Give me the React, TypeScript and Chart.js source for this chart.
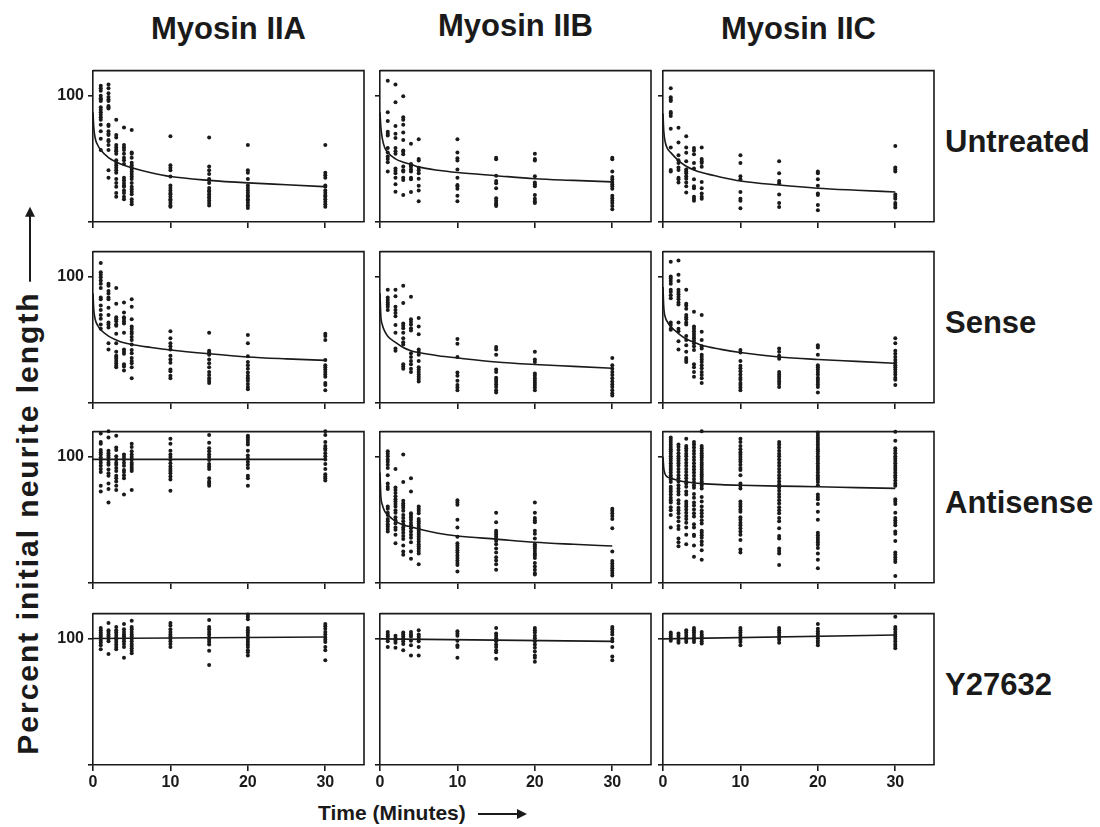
import React, { useEffect, useRef } from 'react';
import { Chart, registerables } from 'chart.js';

Chart.register(...registerables);

// ---------------- DATA ----------------
const COLUMN_TITLES = ['Myosin IIA', 'Myosin IIB', 'Myosin IIC'];
const ROW_TITLES = ['Untreated', 'Sense', 'Antisense', 'Y27632'];
const X_TICKS = [0, 10, 20, 30];
const Y_TICKS = [0, 100];
const TIMES = [1, 2, 3, 4, 5, 10, 15, 20, 30];
const FIT_X = [0, 0.1, 0.3, 0.6, 1, 2, 3, 4, 5, 7.5, 10, 15, 20, 25, 30];
const FIT_X_FLAT = [0, 30];

const untreatedA = [
  [108, 106, 104, 100, 98, 97, 96, 91, 89, 87, 85, 83, 81, 77, 72, 66, 57],
  [109, 106, 102, 99, 97, 96, 92, 91, 90, 77, 76, 72, 70, 69, 65, 64, 61, 57, 41, 35],
  [81, 69, 67, 61, 59, 57, 56, 54, 49, 47, 45, 43, 41, 39, 34, 31, 28, 23, 20],
  [75, 61, 59, 57, 54, 51, 49, 46, 35, 33, 31, 29, 28, 25, 23, 20, 18],
  [73, 55, 54, 51, 47, 45, 43, 42, 40, 38, 36, 34, 31, 28, 26, 24, 22, 18, 16, 14],
  [68, 45, 43, 41, 36, 29, 27, 25, 23, 22, 20, 18, 17, 15, 13, 12],
  [67, 44, 41, 38, 34, 33, 31, 27, 25, 24, 22, 20, 19, 17, 15, 13],
  [61, 41, 39, 34, 29, 27, 25, 23, 21, 20, 18, 17, 15, 13, 11],
  [61, 39, 37, 35, 29, 28, 25, 23, 21, 20, 18, 16, 14, 12],
];
const untreatedAFit = [87, 75, 66, 61, 57, 51, 47.5, 45, 43, 39, 36, 33, 31, 29.5, 28];

const untreatedB = [
  [112, 87, 80, 71.5, 70, 68.5, 58.6, 55, 52, 50, 47.4, 40],
  [109, 95, 76, 70, 66.5, 58.6, 56, 54, 42.5, 40.7, 38.7, 35, 30, 24],
  [99.6, 83, 81, 77, 71, 65, 56.6, 55.6, 53.6, 44, 41, 40, 35, 33.3, 21.4],
  [62, 46, 45, 43.7, 41.7, 40, 35, 33.8, 23.8],
  [65.5, 50, 48.7, 43, 41, 38.7, 34.3, 28.8, 25, 16.4],
  [65.5, 55, 50.6, 48.7, 41.7, 35, 29.3, 28.3, 26.3, 20.8, 16.4],
  [51, 49.7, 36.7, 32.5, 30.8, 26.8, 18.9, 16.9, 15.1, 13.9, 12.6],
  [54, 50, 48.7, 36.2, 31.3, 30, 28.3, 21.4, 18.4, 16.4, 15.1],
  [51, 49.7, 40, 35.7, 33.8, 31.8, 30, 28.3, 26.3, 20.8, 18.9, 16.9, 15.1, 12.6, 10.2],
];
const untreatedBFit = [87, 76, 66, 59, 55, 50, 47.4, 45.7, 43.7, 41, 39.2, 36.7, 34.3, 33, 31.8];

const untreatedC = [
  [106, 98.8, 97, 95.9, 87.2, 85.9, 84, 74, 59, 41.2, 40],
  [74.7, 63, 53, 49, 46.7, 43.2, 41.2, 35, 33.8, 31.3],
  [68, 59, 54.9, 48.2, 41.7, 40, 38.7, 36.2, 34.3, 31.3, 28.3, 23.3],
  [58.6, 56.6, 53.6, 46.7, 42.5, 33.8, 28.3, 26.8, 20.1, 18.4, 16.9],
  [59, 50, 48.2, 46.7, 43.7, 31.8, 26.8, 22.6, 20.1, 18.4],
  [53, 46.7, 36.2, 33.8, 23.8, 18.4, 16.9, 10.9],
  [48.2, 38.7, 32.5, 30.8, 21.8, 15.1, 11.9],
  [40, 38.7, 33.8, 28.8, 22.6, 21.4, 13.4, 9.4],
  [60.3, 43.2, 41.7, 40, 21.8, 20.1, 18.4, 15.1, 13.4, 11.4],
];
const untreatedCFit = [86, 72, 63, 58, 55, 48.7, 44.2, 41.2, 39.2, 35.5, 32.5, 29.3, 26.8, 25.2, 23.8];

const senseA = [
  [111, 103.6, 101.6, 99.6, 97.1, 94.6, 91.1, 83.7, 82.2, 77.2, 73.8, 69.8, 66.8, 62.3, 58.9],
  [94.6, 92.9, 88.7, 86.7, 83.7, 82.2, 75.5, 69.8, 63.8, 62.3, 59.8, 47.4, 42.5],
  [91.1, 78.7, 68, 66.3, 64.8, 62.3, 61.3, 54.9, 47.4, 40.7, 37.5, 36.5, 35, 33.3, 31.5, 29.5, 28.3],
  [79.7, 71.8, 68, 66.8, 64.8, 63.1, 55.6, 42.5, 40.7, 39, 30.8, 29, 25.8],
  [82.2, 76.2, 66.3, 60.6, 58.9, 56.4, 54.9, 52.4, 49.9, 46.4, 42, 39.5, 35.7, 33.3, 31.5, 28.3, 19.6],
  [56.9, 51.4, 47.4, 45, 42.5, 37.5, 34.5, 32, 26.6, 25.1, 21.6, 19.6],
  [55.6, 41.5, 40, 38.2, 34.5, 31.5, 28.3, 24.6, 22.1, 19.6, 17.6, 15.9],
  [53.9, 47.4, 37, 32.5, 30, 27.1, 24.1, 21.6, 19.6, 17.6, 15.1, 12.6, 10.9],
  [54.9, 53.1, 49.9, 34, 30, 28.3, 26.6, 24.6, 22.6, 20.8, 15.9, 14.2, 10.2],
];
const senseAFit = [87, 74, 66, 61.5, 58, 53, 50, 47.7, 46.3, 44, 42, 39, 36.5, 35, 33.8];

const senseB = [
  [89.7, 83.7, 81.7, 79.7, 78, 76.2, 73.8],
  [89.7, 84.7, 76.2, 73.8, 71.3, 68.8, 61.8, 55.6, 43.2, 41.5],
  [92.9, 79.2, 63.1, 61.3, 59.3, 55.6, 51.4, 48.2, 46.4, 30.8, 29, 27.1],
  [84.2, 66.3, 64.3, 62.3, 59.3, 57.4, 39.5, 36.5, 33.3, 30.8, 27.1, 24.6],
  [67.3, 60.6, 54.4, 42.5, 40.7, 38.2, 33.3, 28.3, 26.6, 24.6, 22.6, 20.8, 19.1, 17.1],
  [50.7, 46.9, 36.5, 24.1, 21.6, 17.6, 14.2, 12.2, 10.2],
  [44.4, 42.5, 38.2, 26.6, 24.6, 20.1, 18.4, 16.6, 14.6, 12.6, 10.2, 8.4],
  [40.7, 34.5, 32.5, 23.3, 21.6, 19.6, 17.6, 15.9, 14.2, 12.2, 10.2],
  [35.7, 30, 27.1, 24.6, 22.1, 19.6, 17.1, 14.6, 12.6, 10.2, 7.7, 5.9],
];
const senseBFit = [87, 70, 62, 57, 53, 48, 44, 41.5, 40, 37.5, 35.7, 32.5, 30.5, 29, 27.5];

const senseC = [
  [112, 100.3, 98.6, 96.6, 94.6, 89.7, 87.9, 85.4, 83, 63.8, 61.8, 58.9, 58.1],
  [113, 101.6, 96.6, 89.7, 87.9, 86.2, 84.2, 82.2, 79.7, 78, 63.8, 58.9, 56.9, 48.9, 42.5],
  [89.7, 78.7, 77.2, 74.7, 69.8, 68, 66.3, 63.8, 62.3, 53.1, 49.9, 45.7, 40.7, 35.7, 34, 32.5],
  [72.3, 60.6, 58.9, 56.9, 54.9, 53.1, 51.4, 49.4, 47.4, 45, 42, 30.8, 28.3, 24.6, 20.8],
  [69.8, 56.4, 49.9, 45, 43.2, 38.2, 36.5, 34.5, 32.5, 30, 27.6, 24.6, 22.1, 19.6, 15.9],
  [42, 40, 33.3, 29.5, 27.6, 25.1, 22.6, 20.1, 18.4, 15.9, 14.2, 12.2, 10.2],
  [43.2, 40.7, 37.5, 35, 24.6, 22.6, 20.8, 19.1, 17.1, 15.1, 12.6],
  [45.7, 44, 38.2, 30, 28.3, 26.6, 24.6, 22.6, 20.1, 18.4, 16.6, 14.6, 12.6, 8.4],
  [51.4, 47.4, 41.5, 39, 36.5, 34, 32, 30, 28.3, 26.6, 24.6, 22.6, 20.1, 18.4, 14.2],
];
const senseCFit = [92, 76, 68, 64, 60.6, 55, 50.7, 48.2, 45.7, 42.5, 40, 36.5, 34.5, 33, 31.5];

const antisenseA = [
  [118.5, 111.8, 110.3, 105.4, 103.6, 101.9, 99.4, 97.4, 95.4, 92.9, 90.4, 88, 77, 72.6],
  [120.3, 115.3, 104.9, 102.9, 101.1, 99.4, 97.4, 95.4, 93.7, 90, 87, 85, 78.8, 74.6, 63.9],
  [116.8, 107.3, 105.4, 100.4, 97.9, 95.4, 93.7, 91.2, 88.7, 85, 83, 80.5, 77, 73.8],
  [101.9, 99.9, 97.9, 95.4, 93, 89.5, 88, 85.5, 83, 70.1],
  [110.3, 107.8, 104.4, 101.9, 99.9, 97.9, 95.4, 93.7, 92, 90.4, 88.7, 73.8],
  [114.3, 110.3, 104.9, 101.9, 99.9, 97.4, 94.9, 92.4, 90.4, 88.7, 87, 84.5, 82, 73.1],
  [117.3, 111.1, 106.9, 104.4, 101.9, 99.9, 97.4, 94.4, 92.4, 90.4, 83, 80.5, 78.8, 77],
  [116.8, 115.3, 113.6, 111.8, 109.8, 104.9, 101.1, 98.7, 96.2, 93.7, 91.2, 85, 83, 77],
  [120.3, 117.3, 111.8, 108.6, 106.9, 105.4, 102.9, 100.4, 97.9, 94.4, 90.4, 86.2, 84.5, 83, 81.3],
];
const antisenseAFit = [98, 98];

const antisenseB = [
  [104.4, 102.4, 100.4, 97.9, 96.2, 93.7, 91.2, 85.5, 78.8, 76.3, 74.6, 60.6, 58.9, 55.7, 53.9, 50.7, 49, 46.5, 44.7, 42.8, 40.8],
  [90.4, 75.6, 73.8, 71.3, 68.8, 66.4, 64.6, 62.6, 60.6, 57.7, 55.7, 52.2, 49.7, 47.2, 44, 42.3, 38.3, 31.6],
  [101.9, 80, 65.1, 63.1, 61.4, 59.7, 57.2, 53.9, 51.5, 49, 46.5, 44, 42.3, 39.8, 37.3, 34.8, 29.8, 24.9, 22.4],
  [83, 72.6, 55.2, 53.9, 52.2, 50.2, 47.7, 45.7, 43.3, 40.8, 38.3, 35.8, 32.3, 24.9, 19.2],
  [60.6, 58.9, 57.2, 55.2, 50.7, 49, 47.2, 45.2, 43.3, 41.5, 39.8, 38.3, 36.6, 34.8, 32.8, 30.8, 29.1, 27.4, 25.4, 23.4, 14.9],
  [65.6, 63.9, 62.1, 50.2, 44, 36.6, 31.6, 29.8, 27.9, 25.9, 24.1, 21.7, 19.9, 17.9, 15.9, 14.2, 9.2],
  [55.7, 48.2, 41.5, 39.8, 38.3, 36.6, 34.8, 33.3, 30.8, 27.4, 24.1, 20.4, 17.9, 14.9, 10.5],
  [63.9, 55.7, 51.5, 49.7, 48.2, 41.5, 39, 35.3, 30.8, 29.1, 27.4, 25.4, 23.4, 21.7, 19.9, 15.9, 13, 10.5, 8, 6.7],
  [58.9, 57.2, 55.2, 53.2, 50.7, 43.3, 24.9, 17.4, 15.4, 13.4, 11.7, 10, 8, 6],
];
const antisenseBFit = [87.5, 70, 62, 57, 54, 49, 46, 44.5, 42.8, 39.5, 37.3, 34.8, 32.3, 30.7, 29.3];

const antisenseC = [
  [115.3, 113.6, 111.8, 109.8, 107.8, 106.1, 104.4, 102.4, 100.4, 98.7, 96.9, 94.9, 92.9, 91.2, 89.5, 87.5, 85.5, 83.7, 82, 80, 76.3, 74.6, 72.6, 70.1, 67.6, 65.6, 63.9, 60.1, 57.7, 53.9, 44],
  [109.8, 107.8, 105.4, 102.9, 100.4, 98.7, 96.9, 94.9, 92.9, 90.4, 88, 85.5, 83, 80.5, 77.5, 75, 72.6, 70.1, 65.6, 63.1, 59.7, 57.7, 55.2, 52.2, 49, 45.2, 42.8, 35.3, 32.3, 29.1],
  [114.3, 108.6, 106.9, 104.9, 102.4, 100.4, 97.9, 95.4, 92.9, 90.4, 88, 85.5, 83, 80.5, 78.8, 76.3, 72.6, 70.1, 64.6, 62.6, 60.6, 58.2, 55.7, 53.2, 50.7, 47.7, 44, 38.3, 30.8],
  [111.8, 109.8, 107.3, 104.9, 102.4, 99.9, 97.4, 94.9, 92.4, 90, 87.5, 85, 82.5, 80, 77.5, 75.5, 70.6, 67.6, 63.9, 61.4, 58.2, 55.2, 52.7, 46.5, 44, 38.3, 37.3, 29.8, 20.9],
  [120.3, 108.6, 106.9, 104.9, 102.9, 101.1, 99.4, 97.4, 95.4, 93.7, 91.9, 90, 88, 86.2, 84.5, 82.5, 80.5, 78.8, 77, 75, 68.1, 64.6, 60.6, 57.7, 55.2, 52.7, 49.7, 47.2, 41.5, 39.8, 37.8, 35.8, 32.8, 30.3, 25.9, 18.4],
  [114.3, 111.8, 108.6, 106.1, 103.6, 101.9, 99.9, 97.9, 96.2, 93.7, 91.2, 89.5, 85.5, 78.8, 77, 75, 64.6, 62.6, 60.6, 58.2, 56.4, 52.2, 50.2, 47.7, 45.7, 43.3, 40.8, 38.3, 34.1, 26.6, 24.1],
  [111.8, 109.8, 107.3, 104.9, 102.4, 100.4, 97.9, 95.4, 92.9, 90.4, 88, 85.5, 83, 80.5, 78, 75.5, 73.1, 70.6, 68.1, 65.6, 63.1, 60.1, 57.7, 55.2, 51.5, 49, 43.3, 37.3, 35.3, 27.4, 25.4, 23.4, 14.2],
  [119.3, 117.3, 115.3, 113.6, 111.8, 109.8, 107.8, 106.1, 104.4, 102.4, 100.4, 98.7, 96.9, 94.9, 92.9, 91.2, 89.5, 87.5, 85.5, 83.7, 82, 80, 77.5, 70.1, 68.1, 66.4, 62.6, 56.4, 50.2, 39.8, 37.8, 35.8, 34.1, 32.3, 30.3, 27.8, 23.4, 18.4, 11.7],
  [119.8, 112.8, 106.9, 104.9, 102.9, 100.4, 98.7, 96.9, 94.9, 92.9, 91.2, 89.5, 87.5, 85.5, 83.7, 81.3, 78.8, 77, 66.4, 64.6, 62.6, 55.7, 51.5, 49.7, 47.7, 45.7, 40.8, 39, 33.3, 24.1, 22.4, 20.4, 18.4, 16.7, 5.5],
];
const antisenseCFit = [100, 91, 86, 84, 83, 81.3, 80, 79.3, 78.8, 78, 77.5, 76.8, 76.3, 75.6, 75];

const y27632A = [
  [108.5, 106.8, 105, 103.5, 101.8, 100, 98.5, 96.8, 95, 91.8],
  [112.5, 106.8, 105.5, 103.5, 101.8, 100, 98, 88],
  [109.3, 106.8, 105, 103, 101, 99.3, 97.5, 95.5, 93.5, 91.8],
  [111.8, 107.5, 105.5, 103.5, 101.8, 100, 98, 96, 93.5, 85],
  [114.3, 109.3, 107.5, 105.5, 103.5, 101.8, 100, 98, 96, 94.3, 92.5, 90.5, 88.5],
  [112.5, 110.5, 107.5, 105.5, 103.5, 101.8, 100, 98, 96, 93.5],
  [115, 109.3, 107.5, 105.5, 103.5, 101, 99.3, 97.5, 95.5, 90.5, 79.3],
  [119.3, 117.5, 115.5, 108.5, 106.8, 105, 103, 101, 99.3, 97.5, 95.5, 93.5, 91, 89.3, 86.8],
  [111.8, 110, 108, 105.5, 103.5, 101, 99.3, 97.5, 93.5, 91, 83],
];
const y27632AFit = [100.3, 101.5];

const y27632B = [
  [105.5, 103.5, 101.8, 100, 98, 93.5],
  [102.5, 100.5, 98.5, 96.8, 93],
  [105, 103.5, 101.8, 100, 98, 96, 91],
  [105.5, 103.5, 101.8, 98.5, 95, 86.8],
  [106.8, 103.5, 101.8, 100, 98, 93.5, 86.8],
  [106, 104.3, 102.5, 98.5, 95, 93.5, 85],
  [108.5, 104.3, 102.5, 100.5, 98, 95.5, 93.5, 91, 89.3, 84.3],
  [108.5, 106.8, 105, 102.5, 100.5, 98, 95.5, 93, 90, 86.8, 85, 81.8],
  [109.3, 107.5, 105.5, 103.5, 100, 98, 93.5, 86, 83],
];
const y27632BFit = [100, 98];

const y27632C = [
  [105, 103.5, 101.8, 100, 98.5],
  [104.3, 102.5, 100.5, 98.5, 96.8],
  [106.8, 105, 103, 101, 99.3, 97.5],
  [108.5, 106.8, 105, 103, 101, 99.3, 97.5],
  [105.5, 103.5, 101.8, 100, 98, 96.3],
  [108.5, 106.8, 105, 103, 101, 99.3, 97.5, 95],
  [108.5, 106.8, 105, 103, 101, 99.3, 96.8],
  [111.8, 108, 106, 104.3, 102.5, 100.5, 98.5, 96.8, 95],
  [117.5, 109.3, 107.5, 105.5, 103.5, 101.8, 100, 98, 96, 94.3, 92.5],
];
const y27632CFit = [100, 103];

// ---------------- LAYOUT ----------------
const FONT = '"Liberation Sans", Arial, Helvetica, sans-serif';
const INK = '#1a1a1a';
const PLOT_LEFT = [93, 380, 663];
const PLOT_TOP = [61, 242, 422, 604];
const PLOT_W = 271;
const PLOT_H = 161;
const PAD_L = 52;
const PAD_T = 4;
const PAD_R = 6;
const PAD_B = 34;

type PanelSpec = { pts: number[][]; fitX: number[]; fitY: number[] };

const PANELS: PanelSpec[][] = [
  [
    { pts: untreatedA, fitX: FIT_X, fitY: untreatedAFit },
    { pts: untreatedB, fitX: FIT_X, fitY: untreatedBFit },
    { pts: untreatedC, fitX: FIT_X, fitY: untreatedCFit },
  ],
  [
    { pts: senseA, fitX: FIT_X, fitY: senseAFit },
    { pts: senseB, fitX: FIT_X, fitY: senseBFit },
    { pts: senseC, fitX: FIT_X, fitY: senseCFit },
  ],
  [
    { pts: antisenseA, fitX: FIT_X_FLAT, fitY: antisenseAFit },
    { pts: antisenseB, fitX: FIT_X, fitY: antisenseBFit },
    { pts: antisenseC, fitX: FIT_X, fitY: antisenseCFit },
  ],
  [
    { pts: y27632A, fitX: FIT_X_FLAT, fitY: y27632AFit },
    { pts: y27632B, fitX: FIT_X_FLAT, fitY: y27632BFit },
    { pts: y27632C, fitX: FIT_X_FLAT, fitY: y27632CFit },
  ],
];

const framePlugin = {
  id: 'frame',
  afterDraw(chart: any) {
    const { ctx, chartArea: a } = chart;
    ctx.save();
    ctx.strokeStyle = INK;
    ctx.lineWidth = 1.6;
    ctx.beginPath();
    ctx.moveTo(a.left, a.top);
    ctx.lineTo(a.right, a.top);
    ctx.lineTo(a.right, a.bottom);
    ctx.stroke();
    ctx.restore();
  },
};

function Panel({ row, col }: { row: number; col: number }) {
  const ref = useRef<HTMLCanvasElement>(null);
  const W = PAD_L + PLOT_W + PAD_R;
  const H = PAD_T + PLOT_H + PAD_B;
  useEffect(() => {
    const spec = PANELS[row][col];
    const pts: { x: number; y: number }[] = [];
    spec.pts.forEach((vals, i) => vals.forEach((v) => pts.push({ x: TIMES[i], y: v })));
    const fit = spec.fitX.map((x, i) => ({ x, y: spec.fitY[i] }));
    const tickFont = { family: FONT, size: 16, weight: 'bold' as const };
    const chart = new Chart(ref.current as HTMLCanvasElement, {
      type: 'scatter',
      data: {
        datasets: [
          {
            data: pts,
            showLine: false,
            pointRadius: 2,
            pointBackgroundColor: INK,
            pointBorderColor: INK,
            pointBorderWidth: 0,
            clip: 4,
          } as any,
          {
            data: fit,
            showLine: true,
            pointRadius: 0,
            borderColor: INK,
            borderWidth: 1.6,
            cubicInterpolationMode: 'monotone',
            fill: false,
          } as any,
        ],
      },
      options: {
        responsive: false,
        animation: false,
        events: [],
        layout: { padding: { top: PAD_T, right: PAD_R, left: 0, bottom: 0 } },
        plugins: { legend: { display: false }, tooltip: { enabled: false } },
        scales: {
          x: {
            type: 'linear',
            min: 0,
            max: 35,
            afterBuildTicks: (s: any) => {
              s.ticks = X_TICKS.map((value) => ({ value }));
            },
            afterFit: (s: any) => {
              s.height = PAD_B;
            },
            ticks: {
              callback: (v: any) => (row === 3 ? String(v) : ''),
              font: tickFont,
              color: INK,
              padding: 2,
              maxRotation: 0,
              autoSkip: false,
            },
            grid: { drawOnChartArea: false, tickLength: 6, color: INK, lineWidth: 1.6 },
            border: { color: INK, width: 1.6 },
          },
          y: {
            type: 'linear',
            min: 0,
            max: 120,
            afterBuildTicks: (s: any) => {
              s.ticks = Y_TICKS.map((value) => ({ value }));
            },
            afterFit: (s: any) => {
              s.width = PAD_L;
            },
            ticks: {
              callback: (v: any) => (col === 0 && v === 100 ? String(v) : ''),
              font: tickFont,
              color: INK,
              padding: 4,
              autoSkip: false,
            },
            grid: { drawOnChartArea: false, tickLength: 5, color: INK, lineWidth: 1.6 },
            border: { color: INK, width: 1.6 },
          },
        },
      } as any,
      plugins: [framePlugin],
    });
    return () => chart.destroy();
  }, [row, col]);
  return (
    <canvas
      ref={ref}
      width={W}
      height={H}
      style={{
        position: 'absolute',
        left: PLOT_LEFT[col] - PAD_L,
        top: PLOT_TOP[row] - PAD_T,
        width: W,
        height: H,
      }}
    />
  );
}

function Arrow({ length, gap }: { length: number; gap: number }) {
  return (
    <span
      style={{
        display: 'inline-block',
        position: 'relative',
        width: length,
        height: 2,
        background: INK,
        verticalAlign: 'middle',
        marginLeft: gap,
        letterSpacing: 0,
      }}
    >
      <span
        style={{
          position: 'absolute',
          right: -3,
          top: -4,
          width: 0,
          height: 0,
          borderLeft: '10px solid ' + INK,
          borderTop: '5px solid transparent',
          borderBottom: '5px solid transparent',
        }}
      />
    </span>
  );
}

export default function App() {
  const labelBase: React.CSSProperties = {
    position: 'absolute',
    fontFamily: FONT,
    fontWeight: 'bold',
    color: INK,
    whiteSpace: 'nowrap',
    lineHeight: 1,
  };
  const titleDy = [0, -3, 0];
  return (
    <div
      style={{
        position: 'absolute',
        left: 0,
        top: 0,
        width: 1100,
        height: 827,
        background: '#fff',
        overflow: 'hidden',
      }}
    >
      {COLUMN_TITLES.map((t, c) => (
        <div
          key={t}
          style={{
            ...labelBase,
            fontSize: 31,
            left: PLOT_LEFT[c] + PLOT_W / 2 - 150,
            width: 300,
            textAlign: 'center',
            top: 13 + titleDy[c],
          }}
        >
          {t}
        </div>
      ))}
      {ROW_TITLES.map((t, r) => (
        <div
          key={t}
          style={{
            ...labelBase,
            fontSize: 31,
            left: 945,
            top: PLOT_TOP[r] + PLOT_H / 2 - 16,
          }}
        >
          {t}
        </div>
      ))}
      <div
        style={{
          ...labelBase,
          fontSize: 30,
          letterSpacing: 2,
          left: 28,
          top: 482,
          transform: 'translate(-50%, -50%) rotate(-90deg)',
        }}
      >
        Percent initial neurite length
        <Arrow length={72} gap={10} />
      </div>
      <div
        style={{
          ...labelBase,
          fontSize: 21,
          left: 318,
          top: 802,
        }}
      >
        Time (Minutes)
        <Arrow length={46} gap={12} />
      </div>
      {PANELS.map((rowSpecs, r) =>
        rowSpecs.map((_, c) => <Panel key={r + '-' + c} row={r} col={c} />)
      )}
    </div>
  );
}
